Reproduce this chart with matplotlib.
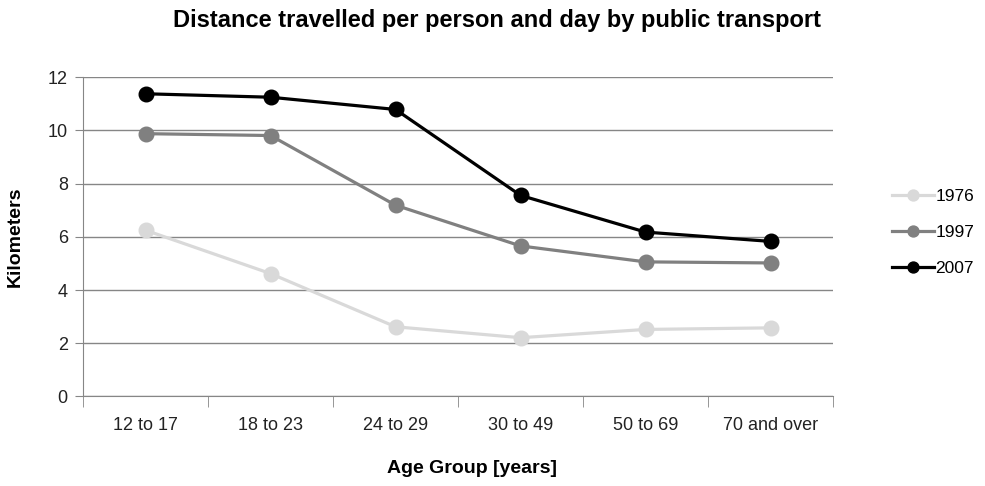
import numpy as np
import matplotlib.pyplot as plt
from matplotlib.ticker import FixedLocator, NullFormatter

groups = ["12 to 17", "18 to 23", "24 to 29", "30 to 49", "50 to 69", "70 and over"]
km_1976 = [6.25, 4.62, 2.62, 2.21, 2.52, 2.58]
km_1997 = [9.88, 9.81, 7.19, 5.66, 5.06, 5.02]
km_2007 = [11.38, 11.25, 10.79, 7.56, 6.18, 5.83]

series = [("1976", km_1976, "#d9d9d9"), ("1997", km_1997, "#808080"), ("2007", km_2007, "#000000")]

plt.rcParams['font.family'] = ['Liberation Sans', 'DejaVu Sans']

fig = plt.figure(figsize=(9.85, 4.86), dpi=100)
ax = fig.add_axes([0.0843, 0.1842, 0.7614, 0.6568])

x = np.arange(len(groups))
for name, vals, col in series:
    ax.plot(x, vals, color=col, lw=2.3, marker='o', ms=10.5, label=name, zorder=3)

ax.set_xlim(-0.5, len(groups) - 0.5)
ax.set_ylim(0, 12)
ax.set_yticks(np.arange(0, 13, 2))
ax.yaxis.grid(True, color="#868686", lw=1)
ax.set_axisbelow(True)

ax.set_xticks(x)
ax.set_xticklabels(groups)
# category separators as minor ticks between groups
ax.xaxis.set_minor_locator(FixedLocator(np.arange(-0.5, len(groups), 1.0)))
ax.xaxis.set_minor_formatter(NullFormatter())
ax.tick_params(axis='x', which='major', length=0, pad=15, labelsize=13, colors="#222222")
ax.tick_params(axis='x', which='minor', length=8, color="#868686", direction='out')
ax.tick_params(axis='y', length=6, color="#868686", labelsize=13, labelcolor="#222222", pad=5)

for s in ["top", "right"]:
    ax.spines[s].set_visible(False)
for s in ["left", "bottom"]:
    ax.spines[s].set_color("#868686")

fig.text(0.505, 0.958, "Distance travelled per person and day by public transport",
         ha='center', va='center', fontsize=17, fontweight='bold')
ax.set_xlabel("Age Group [years]", fontsize=14, fontweight='bold')
ax.xaxis.set_label_coords(0.519, -0.198)
ax.set_ylabel("Kilometers", fontsize=14, fontweight='bold')
ax.yaxis.set_label_coords(-0.079, 0.50)

ax.legend(loc='center left', bbox_to_anchor=(1.058, 0.515), frameon=False, fontsize=12.5,
          handlelength=2.4, handletextpad=0.1, labelspacing=1.2, markerscale=0.75)

fig.savefig("out.png", dpi=100)
